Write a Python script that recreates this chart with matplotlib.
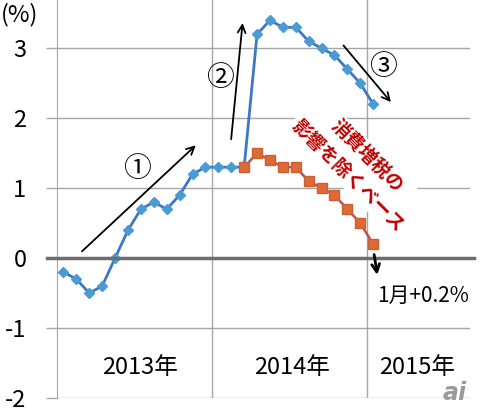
import matplotlib
matplotlib.use('Agg')
import matplotlib.pyplot as plt

plt.rcParams['font.family'] = ['Noto Sans CJK JP', 'DejaVu Sans']

# 2013-01 .. 2015-01, core CPI yoy (%)
months = ['2013-%02d' % m for m in range(1, 13)] + ['2014-%02d' % m for m in range(1, 13)] + ['2015-01']
cpi = [-0.2, -0.3, -0.5, -0.4, 0.0, 0.4, 0.7, 0.8, 0.7, 0.9, 1.2, 1.3,
       1.3, 1.3, 1.3, 3.2, 3.4, 3.3, 3.3, 3.1, 3.0, 2.9, 2.7, 2.5,
       2.2]
# excluding consumption tax hike, from 2014-03
ex_tax_months = months[14:]
ex_tax = [1.3, 1.5, 1.4, 1.3, 1.3, 1.1, 1.0, 0.9, 0.7, 0.5, 0.2]

years = ['2013年', '2014年', '2015年']
year_pos = [5.9, 17.7, 27.4]
n_slots = 32  # axis runs to 2015-08

x_cpi = [months.index(m) for m in months]
x_ex = [months.index(m) for m in ex_tax_months]

fig = plt.figure(figsize=(4.8, 4.11), dpi=100)
ax = fig.add_axes([57 / 480, 13 / 411, 413 / 480, 398 / 411])
ax.set_xlim(-0.5, n_slots - 0.5)
ax.set_ylim(-2, 3.69)

grid_c = '#a6a6a6'
for s in ['top', 'right', 'bottom']:
    ax.spines[s].set_visible(False)
ax.spines['left'].set_color(grid_c)

ax.set_yticks([-2, -1, 0, 1, 2, 3])
ax.set_yticklabels(['-2', '-1', '0', '1', '2', '3'], fontsize=17)
ax.tick_params(axis='y', length=8, width=1, color=grid_c, pad=14)
ax.set_xticks([])
for y in [-2, -1, 1, 2, 3]:
    ax.axhline(y, color=grid_c, lw=1, zorder=0)
for xb in [11.5, 23.5]:
    ax.axvline(xb, color=grid_c, lw=1, zorder=0)
ax.plot([-1.3, n_slots - 0.2], [0, 0], color='#6e6e6e', lw=2.5, zorder=5, clip_on=False)

ax.plot(x_cpi, cpi, color='#3c78c3', lw=2, marker='D', markersize=5.5,
        markerfacecolor='#4a9ad4', markeredgecolor='#4a9ad4', zorder=4)
ax.plot(x_ex, ex_tax, color='#c0504d', lw=1.8, marker='s', markersize=6.5,
        markerfacecolor='#dd6b35', markeredgecolor='#c8603a', zorder=4)

ax.text(22.8, 1.32, '消費増税の\n影響を除くベース', color='#c00000', fontsize=13.5,
        fontweight='bold', rotation=-45, ha='center', va='center', multialignment='center',
        linespacing=1.55, rotation_mode='anchor', zorder=2,
        bbox=dict(facecolor='white', edgecolor='none', pad=2))

arrow = dict(arrowstyle='->', color='black', lw=1.3, mutation_scale=14)
ax.annotate('', xy=(10.41, 1.64), xytext=(1.28, 0.07), arrowprops=arrow, zorder=6)
ax.annotate('', xy=(13.90, 3.40), xytext=(12.97, 1.66), arrowprops=arrow, zorder=6)
ax.annotate('', xy=(25.51, 2.20), xytext=(21.56, 3.07), arrowprops=arrow, zorder=6)
ax.annotate('', xy=(24.35, -0.28), xytext=(24.04, 0.09),
            arrowprops=dict(arrowstyle='->', color='black', lw=2, mutation_scale=14), zorder=6)

ax.text(5.69, 1.27, '①', fontsize=20, ha='center', va='center')
ax.text(12.12, 2.57, '②', fontsize=20, ha='center', va='center')
ax.text(24.73, 2.73, '③', fontsize=20, ha='center', va='center')
ax.text(24.27, -0.54, '1月+0.2%', fontsize=15, ha='left', va='center')

for label, xp in zip(years, year_pos):
    ax.text(xp, -1.56, label, fontsize=17, ha='center', va='center')

fig.text(1 / 480, 1 - 15 / 411, '(%)', fontsize=17, ha='left', va='center')
fig.text(455 / 480, 1 - 393 / 411, 'ai', fontsize=17, color='#9a9a9a', style='italic',
         fontweight='bold', ha='center', va='center', family='DejaVu Sans')

fig.savefig('out.png', dpi=100)
